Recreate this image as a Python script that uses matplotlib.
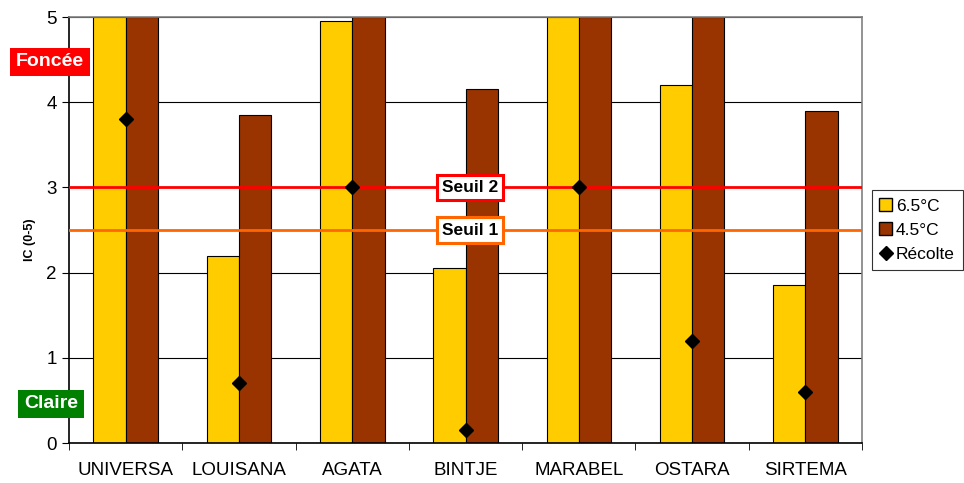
import matplotlib

matplotlib.use("Agg")
import matplotlib.pyplot as plt
import numpy as np
from matplotlib.lines import Line2D
from matplotlib.patches import Patch

plt.rcParams["font.family"] = ["Liberation Sans", "DejaVu Sans"]

varietes = ["UNIVERSA", "LOUISANA", "AGATA", "BINTJE", "MARABEL", "OSTARA", "SIRTEMA"]
ic_65 = [5.0, 2.2, 4.95, 2.05, 5.0, 4.2, 1.85]
ic_45 = [5.0, 3.85, 5.0, 4.15, 5.0, 5.0, 3.9]
recolte = [3.8, 0.7, 3.0, 0.15, 3.0, 1.2, 0.6]
seuil_1 = 2.5
seuil_2 = 3.0

fig = plt.figure(figsize=(9.64, 4.83), dpi=100)
ax = fig.add_axes([0.0716, 0.0828, 0.8226, 0.8820])

x = np.arange(len(varietes))
w = 0.285
ax.bar(x - w / 2, ic_65, w, color="#FFCC00", edgecolor="black", linewidth=0.8, zorder=2)
ax.bar(x + w / 2, ic_45, w, color="#993300", edgecolor="black", linewidth=0.8, zorder=2)
ax.plot(x, recolte, linestyle="none", marker="D", markersize=7.5, color="black", zorder=5)

ax.axhline(seuil_2, color="#FF0000", linewidth=2, zorder=3)
ax.axhline(seuil_1, color="#FF6600", linewidth=2, zorder=3)
ax.text(3.04, seuil_2, "Seuil 2", ha="center", va="center", fontsize=12.5, fontweight="bold", zorder=6,
        bbox=dict(boxstyle="square,pad=0.3", fc="white", ec="#FF0000", lw=2.2))
ax.text(3.04, seuil_1, "Seuil 1", ha="center", va="center", fontsize=12.5, fontweight="bold", zorder=6,
        bbox=dict(boxstyle="square,pad=0.3", fc="white", ec="#FF6600", lw=2.2))

ax.set_xlim(-0.5, len(varietes) - 0.5)
ax.set_ylim(0, 5)
ax.set_yticks([0, 1, 2, 3, 4, 5])
ax.yaxis.grid(True, color="black", linewidth=0.8, zorder=0)
ax.set_axisbelow(True)
ax.set_xticks(x)
ax.set_xticklabels(varietes, fontsize=13.5)
ax.set_xticks(np.arange(len(varietes) + 1) - 0.5, minor=True)
ax.tick_params(axis="x", which="major", length=0, pad=14)
ax.tick_params(axis="x", which="minor", length=5, color="black")
ax.tick_params(axis="y", labelsize=13.5, length=5, color="black", pad=4)

for s in ["top", "right"]:
    ax.spines[s].set_color("#808080")
    ax.spines[s].set_linewidth(1.2)
for s in ["left", "bottom"]:
    ax.spines[s].set_color("black")
    ax.spines[s].set_linewidth(1.2)

# y label placed by hand, as in the original
fig.text(30 / 964, 1 - 240 / 483, "IC (0-5)", rotation=90, ha="center", va="center",
         fontsize=9, fontweight="bold")

fig.text(50 / 964, 1 - 62 / 483, "Foncée", ha="center", va="center", fontsize=14, fontweight="bold",
         color="white", bbox=dict(boxstyle="square,pad=0.3", fc="#FF0000", ec="none"))
fig.text(51 / 964, 1 - 404 / 483, "Claire", ha="center", va="center", fontsize=14, fontweight="bold",
         color="white", bbox=dict(boxstyle="square,pad=0.3", fc="#008000", ec="none"))

handles = [
    Patch(facecolor="#FFCC00", edgecolor="black", label="6.5°C"),
    Patch(facecolor="#993300", edgecolor="black", label="4.5°C"),
    Line2D([], [], linestyle="none", marker="D", markersize=7.5, color="black", label="Récolte"),
]
leg = ax.legend(handles=handles, loc="center left", bbox_to_anchor=(1.012, 0.5), fontsize=12.5,
                frameon=True, fancybox=False, edgecolor="black", handlelength=0.75, handleheight=0.75,
                handletextpad=0.2, borderpad=0.45, labelspacing=0.5, borderaxespad=0)
leg.get_frame().set_linewidth(0.8)

fig.savefig("out.png", dpi=100)
